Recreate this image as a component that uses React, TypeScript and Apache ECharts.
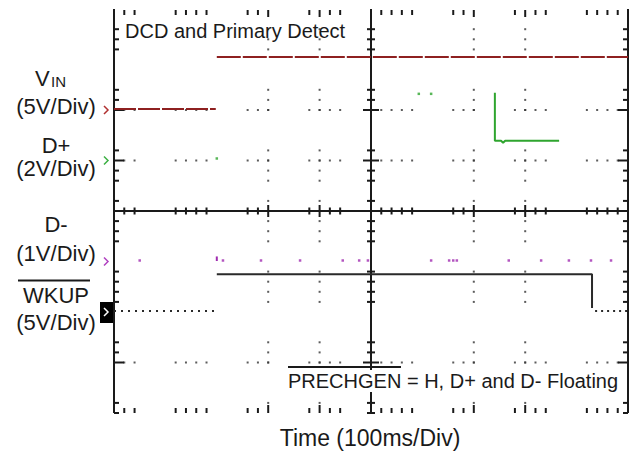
import { useEffect, useRef } from "react";
import * as echarts from "echarts";

const FONT = "'Liberation Sans', Arial, Helvetica, sans-serif";

// Screen in divisions: 10 horizontal (100 ms/div), 8 vertical
const xRange = [0, 10];
const yRange = [-4, 4];

// Graticule marks visible in the scan, in fifths of a division
const xMinorSteps = [1, 2, 6, 7, 8, 9, 13, 14, 15, 19, 20, 21, 22, 26, 27, 28, 29, 33, 34, 35, 39, 40, 41, 42, 46, 47, 48, 49];
const yMinorSteps = [2, 3, 4, 8, 9, 10, 14, 15, 16, 17, 19, 21, 22, 23, 26, 27, 28, 29, 33, 34, 35, 39, 40]; // from top
const xMajorSteps = [15, 20, 35, 40];
const yMajorSteps = [10, 15, 35];

// Traces (x: divisions from left, y: divisions from centre)
const vinLow = [[0, 2.02], [1.98, 2.02]];
const vinHigh = [[2.0, 3.05], [10, 3.05]];
const dPlusDots = [[2.0, 1.04], [5.93, 2.32], [6.17, 2.32]];
const dPlusTrace = [[7.41, 2.34], [7.41, 1.39], [7.53, 1.39], [7.57, 1.35], [7.61, 1.39], [8.66, 1.39]];
const dMinusDots = [[0.5, -0.98], [2.12, -0.98], [2.86, -0.98], [3.62, -0.98], [4.45, -0.98], [4.77, -0.98], [4.94, -0.98], [6.17, -0.98], [6.52, -0.98], [6.6, -0.98], [6.67, -0.98], [7.68, -0.98], [8.31, -0.98], [8.85, -0.98], [9.28, -0.98], [9.67, -0.98]];
const dMinusBar = [[2.0, -0.9], [2.0, -0.99]];
const wkupLow = [[0, -1.98], [1.98, -1.98]];
const wkupHigh = [[2.0, -1.25], [9.3, -1.25], [9.3, -1.92]];
const wkupTail = [[9.36, -1.98], [10, -1.98]];

// Channel reference levels (VIN, D+, D-, WKUP)
const refLevels = [2.0, 1.0, -1.0, -2.0];
const refColors = ["#b03030", "#3cb043", "#b040c0", "#000000"];

const VIN_COLOR = "#8e2020";
const DP_COLOR = "#2fa52f";
const DM_COLOR = "#a02cb0";
const WK_COLOR = "#2a2a2a";
const INK = "#1a1a1a";

export default function App() {
  const ref = useRef<HTMLDivElement>(null);

  useEffect(() => {
    if (!ref.current) return;
    const chart = echarts.init(ref.current, undefined, { renderer: "svg" });

    const toX = (k: number) => k / 5;
    const toY = (k: number) => 4 - k / 5;

    // ticks: [x, y, kind, major]
    const ticks: number[][] = [];
    const rows = [[4, 0], [0, 1], [-4, 2]];
    rows.forEach(([y, kind]) => {
      xMinorSteps.forEach((k) => ticks.push([toX(k), y, kind, xMajorSteps.includes(k) ? 1 : 0]));
    });
    const cols = [[0, 3], [5, 4], [10, 5]];
    cols.forEach(([x, kind]) => {
      yMinorSteps.forEach((k) => ticks.push([x, toY(k), kind, yMajorSteps.includes(k) ? 1 : 0]));
    });

    const dots: number[][] = [];
    xMajorSteps.forEach((kx) =>
      yMinorSteps.forEach((ky) => {
        const y = toY(ky);
        if (Math.abs(y) < 3.99 && Math.abs(y) > 0.01) dots.push([toX(kx), y]);
      })
    );
    yMajorSteps.forEach((ky) =>
      xMinorSteps.forEach((kx) => {
        const x = toX(kx);
        if (x > 0.01 && x < 9.99 && Math.abs(x - 5) > 0.01) dots.push([x, toY(ky)]);
      })
    );

    const frame = [
      [xRange[0], yRange[0], xRange[0], yRange[1]],
      [xRange[1], yRange[0], xRange[1], yRange[1]],
      [5, yRange[0], 5, yRange[1]],
      [xRange[0], 0, xRange[1], 0],
    ];

    const refData = refLevels.map((y, i) => [0, y, i]);

    const text = (t: string, x: number, y: number, size: number, align = "center", extra: any = {}) => ({
      type: "text",
      x,
      y,
      silent: true,
      z: 10,
      style: {
        text: t,
        fill: INK,
        fontSize: size,
        fontFamily: FONT,
        align,
        verticalAlign: "middle",
        ...extra,
      },
    });

    chart.setOption({
      animation: false,
      backgroundColor: "#ffffff",
      grid: { left: 114, right: 8, top: 9, bottom: 45 },
      xAxis: {
        type: "value",
        min: xRange[0],
        max: xRange[1],
        axisLine: { show: false },
        axisTick: { show: false },
        axisLabel: { show: false },
        splitLine: { show: false },
      },
      yAxis: {
        type: "value",
        min: yRange[0],
        max: yRange[1],
        axisLine: { show: false },
        axisTick: { show: false },
        axisLabel: { show: false },
        splitLine: { show: false },
      },
      series: [
        {
          type: "scatter",
          data: dots,
          symbol: "rect",
          symbolSize: 2,
          itemStyle: { color: "#333" },
          silent: true,
          z: 1,
        },
        {
          type: "custom",
          data: frame,
          clip: false,
          silent: true,
          z: 2,
          renderItem: (_p: any, api: any) => {
            const a = api.coord([api.value(0), api.value(1)]);
            const b = api.coord([api.value(2), api.value(3)]);
            return {
              type: "line",
              shape: { x1: a[0], y1: a[1], x2: b[0], y2: b[1] },
              style: { stroke: INK, lineWidth: 2 },
            };
          },
        },
        {
          type: "custom",
          data: ticks,
          clip: false,
          silent: true,
          z: 2,
          renderItem: (_p: any, api: any) => {
            const p = api.coord([api.value(0), api.value(1)]);
            const kind = api.value(2);
            const major = api.value(3) === 1;
            const x = p[0];
            const y = p[1];
            let s = { x1: x, y1: y, x2: x, y2: y };
            if (kind === 0) s = { x1: x, y1: y + 1, x2: x, y2: y + (major ? 8 : 6) };
            else if (kind === 1) s = { x1: x, y1: y - (major ? 6 : 3.5), x2: x, y2: y + (major ? 6 : 3.5) };
            else if (kind === 2) s = { x1: x, y1: y, x2: x, y2: y - (major ? 8 : 5) };
            else if (kind === 3) s = { x1: x, y1: y, x2: x + (major ? 10 : 5), y2: y };
            else if (kind === 4) s = { x1: x - (major ? 8 : 4), y1: y, x2: x + (major ? 8 : 4), y2: y };
            else s = { x1: x, y1: y, x2: x - (major ? 10 : 5), y2: y };
            return { type: "line", shape: s, style: { stroke: INK, lineWidth: 2 } };
          },
        },
        {
          type: "custom",
          data: refData,
          clip: false,
          silent: true,
          z: 5,
          renderItem: (_p: any, api: any) => {
            const p = api.coord([api.value(0), api.value(1)]);
            const i = api.value(2);
            const x = p[0];
            const y = p[1];
            if (i === 3) {
              return {
                type: "group",
                children: [
                  { type: "rect", shape: { x: x - 14, y: y - 10, width: 13, height: 21 }, style: { fill: "#000" } },
                  {
                    type: "polyline",
                    shape: { points: [[x - 10, y - 4], [x - 6, y], [x - 10, y + 4]] },
                    style: { stroke: "#fff", lineWidth: 1.5, fill: "none" },
                  },
                ],
              };
            }
            return {
              type: "polyline",
              shape: { points: [[x - 10, y - 4], [x - 6, y], [x - 10, y + 4]] },
              style: { stroke: refColors[i], lineWidth: 1.5, fill: "none" },
            };
          },
        },
        {
          type: "line",
          data: vinLow,
          showSymbol: false,
          silent: true,
          z: 4,
          lineStyle: { color: VIN_COLOR, width: 2, type: [22, 2] },
        },
        {
          type: "line",
          data: vinHigh,
          showSymbol: false,
          silent: true,
          z: 4,
          lineStyle: { color: VIN_COLOR, width: 2, type: [24, 2] },
        },
        {
          type: "line",
          data: dPlusTrace,
          showSymbol: false,
          silent: true,
          z: 4,
          lineStyle: { color: DP_COLOR, width: 2 },
        },
        {
          type: "scatter",
          data: dPlusDots,
          symbol: "rect",
          symbolSize: 2.5,
          silent: true,
          z: 4,
          itemStyle: { color: DP_COLOR },
        },
        {
          type: "scatter",
          data: dMinusDots,
          symbol: "rect",
          symbolSize: 2.5,
          silent: true,
          z: 4,
          itemStyle: { color: DM_COLOR },
        },
        {
          type: "line",
          data: dMinusBar,
          showSymbol: false,
          silent: true,
          z: 4,
          lineStyle: { color: DM_COLOR, width: 2 },
        },
        {
          type: "line",
          data: wkupLow,
          showSymbol: false,
          silent: true,
          z: 4,
          lineStyle: { color: WK_COLOR, width: 2, type: [2, 5] },
        },
        {
          type: "line",
          data: wkupHigh,
          showSymbol: false,
          silent: true,
          z: 4,
          lineStyle: { color: WK_COLOR, width: 2 },
        },
        {
          type: "line",
          data: wkupTail,
          showSymbol: false,
          silent: true,
          z: 4,
          lineStyle: { color: WK_COLOR, width: 2, type: [2, 4] },
        },
      ],
      graphic: [
        text("DCD and Primary Detect", 125, 31, 20, "left"),
        text("V", 35, 78, 22, "left"),
        text("IN", 51, 81.5, 15, "left"),
        text("(5V/Div)", 56, 106, 22),
        text("D+", 56, 145, 22),
        text("(2V/Div)", 56, 168, 22),
        text("D-", 56, 224.5, 22),
        text("(1V/Div)", 56, 253, 22),
        text("WKUP", 56, 295, 22),
        { type: "line", silent: true, shape: { x1: 18, y1: 280.5, x2: 90, y2: 280.5 }, style: { stroke: INK, lineWidth: 2 } },
        text("(5V/Div)", 56, 322.5, 22),
        text("PRECHGEN = H, D+ and D- Floating", 288, 381, 20, "left", {
          backgroundColor: "#ffffff",
          padding: [1, 0, 1, 0],
        }),
        { type: "line", silent: true, z: 11, shape: { x1: 288, y1: 367, x2: 401, y2: 367 }, style: { stroke: INK, lineWidth: 2 } },
        text("Time (100ms/Div)", 370, 438, 23),
      ],
    });

    return () => chart.dispose();
  }, []);

  return (
    <div
      ref={ref}
      style={{ position: "fixed", left: 0, top: 0, width: 636, height: 458, background: "#fff" }}
    />
  );
}
